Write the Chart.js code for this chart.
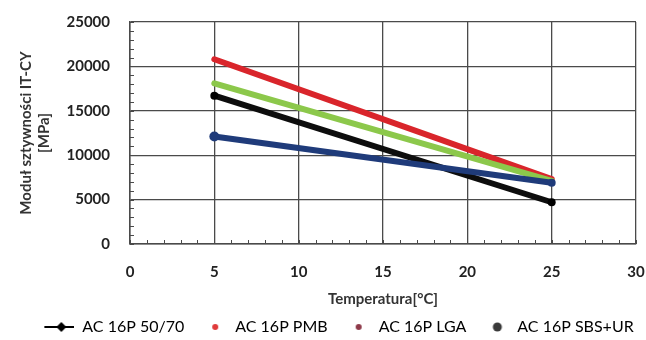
<!DOCTYPE html>
<html><head><meta charset="utf-8">
<script src="https://cdn.jsdelivr.net/npm/chart.js@4/dist/chart.umd.min.js"></script>
<style>html,body{margin:0;padding:0;background:#fff}#wrap{width:646px;height:340px}</style>
</head><body><div id="wrap"><canvas id="c" width="646" height="340"></canvas></div>
<script>
// Stiffness modulus IT-CY against test temperature
const temperatures = [5, 25];
const mod5070 = [16700, 4700];
const modPMB = [20800, 7300];
const modLGA = [18100, 7100];
const modSBSUR = [12100, 6900];
const seriesNames = ['AC 16P 50/70', 'AC 16P PMB', 'AC 16P LGA', 'AC 16P SBS+UR'];
const xTickValues = [0, 5, 10, 15, 20, 25, 30];
const yTickValues = [0, 5000, 10000, 15000, 20000, 25000];

const FONT = 'Lato, "Open Sans", sans-serif';
const GRID = '#4a4a4a';
const SW = 42; // legend swatch width

function pts(ys) { return temperatures.map((t, i) => ({ x: t, y: ys[i] })); }

// legend swatches drawn into small canvases
function swatch(draw) {
  const c = document.createElement('canvas');
  c.width = SW; c.height = 12;
  draw(c.getContext('2d'));
  return c;
}
const swLine = swatch(g => {
  g.strokeStyle = '#000'; g.lineWidth = 2;
  g.beginPath(); g.moveTo(12, 6); g.lineTo(SW, 6); g.stroke();
  g.fillStyle = '#000'; g.beginPath(); g.moveTo(29, 1); g.lineTo(34, 6); g.lineTo(29, 11); g.lineTo(24, 6); g.closePath(); g.fill();
});
const swDot = (col, r) => swatch(g => {
  g.fillStyle = col; g.beginPath(); g.arc(SW - 12, 6, r, 0, Math.PI * 2); g.fill();
});
const legendMarks = [swLine, swDot('#e03a3a', 3), swDot('#8e3a4a', 3), swDot('#3a3a3a', 4.5)];

// small inward ticks along the left and bottom axes
const minorTicks = {
  id: 'minorTicks',
  beforeDatasetsDraw(chart) {
    const { ctx, scales: { x, y }, chartArea: a } = chart;
    ctx.save();
    ctx.strokeStyle = GRID; ctx.lineWidth = 1;
    ctx.beginPath();
    for (let v = 0; v <= 25000; v += 1000) {
      const py = Math.round(y.getPixelForValue(v)) + 0.5;
      ctx.moveTo(a.left, py); ctx.lineTo(a.left + 4, py);
    }
    for (let v = 0; v <= 30; v += 1) {
      const px = Math.round(x.getPixelForValue(v)) + 0.5;
      ctx.moveTo(px, a.bottom); ctx.lineTo(px, a.bottom - 4);
    }
    ctx.stroke();
    ctx.restore();
  }
};

// nudge the legend row a little closer to the bottom edge
const legendNudge = {
  id: 'legendNudge',
  afterLayout(chart) {
    const lg = chart.legend;
    if (lg) { lg.top += 5; lg.bottom += 5; }
  }
};

const line = (label, data, color, extra) => Object.assign({
  label, data: pts(data), borderColor: color, backgroundColor: color,
  borderWidth: 6, borderCapStyle: 'round', pointRadius: 0, pointBorderWidth: 0, tension: 0
}, extra || {});

new Chart(document.getElementById('c'), {
  type: 'line',
  data: {
    datasets: [
      line(seriesNames[3], modSBSUR, '#1f3b7a', { pointRadius: [5, 4], pointBackgroundColor: '#1f3b7a', order: 1 }),
      line(seriesNames[0], mod5070, '#0d0d0d', { pointRadius: 4, pointBackgroundColor: '#000', order: 2 }),
      line(seriesNames[2], modLGA, '#8cc84b', { order: 3 }),
      line(seriesNames[1], modPMB, '#d9252b', { order: 4 })
    ]
  },
  options: {
    responsive: false,
    animation: false,
    layout: { padding: { top: 22, right: 0, left: 20, bottom: 0 } },
    plugins: {
      tooltip: { enabled: false },
      legend: {
        position: 'bottom',
        labels: {
          usePointStyle: true,
          pointStyleWidth: SW,
          padding: 1,
          color: '#222',
          font: { family: FONT, size: 16 },
          generateLabels: () => seriesNames.map((n, i) => ({
            text: n, pointStyle: legendMarks[i], fillStyle: '#000', strokeStyle: '#000',
            lineWidth: 0, hidden: false, datasetIndex: i
          }))
        }
      }
    },
    scales: {
      x: {
        type: 'linear', min: 0, max: 30,
        afterBuildTicks: s => { s.ticks = xTickValues.map(v => ({ value: v })); },
        grid: { color: GRID, lineWidth: 1.3, drawTicks: false },
        border: { color: GRID, width: 1.5 },
        ticks: { padding: 19, color: '#222', callback: v => String(v),
                 font: { family: FONT, size: 15, weight: 'bold' } },
        title: { display: true, text: 'Temperatura[°C]', color: '#333', padding: { top: 4, bottom: 5 },
                 font: { family: FONT, size: 15, weight: 'bold' } },
        afterFit: s => { s.height = 69; s.paddingRight = 10; s.paddingLeft = 0; }
      },
      y: {
        type: 'linear', min: 0, max: 25000,
        afterBuildTicks: s => { s.ticks = yTickValues.map(v => ({ value: v })); },
        grid: { color: GRID, lineWidth: 1.3, drawTicks: false },
        border: { color: GRID, width: 1.5 },
        ticks: { padding: 20, color: '#222', callback: v => String(v),
                 font: { family: FONT, size: 15, weight: 'bold' } },
        title: { display: true, text: ['Moduł sztywności IT-CY', '[MPa]'], color: '#333',
                 padding: { top: -3, bottom: 0 }, font: { family: FONT, size: 15, weight: 'bold' } },
        afterFit: s => { s.width = 110; s.paddingTop = 0; s.paddingBottom = 0; }
      }
    }
  },
  plugins: [minorTicks, legendNudge]
});
</script>
</body></html>
